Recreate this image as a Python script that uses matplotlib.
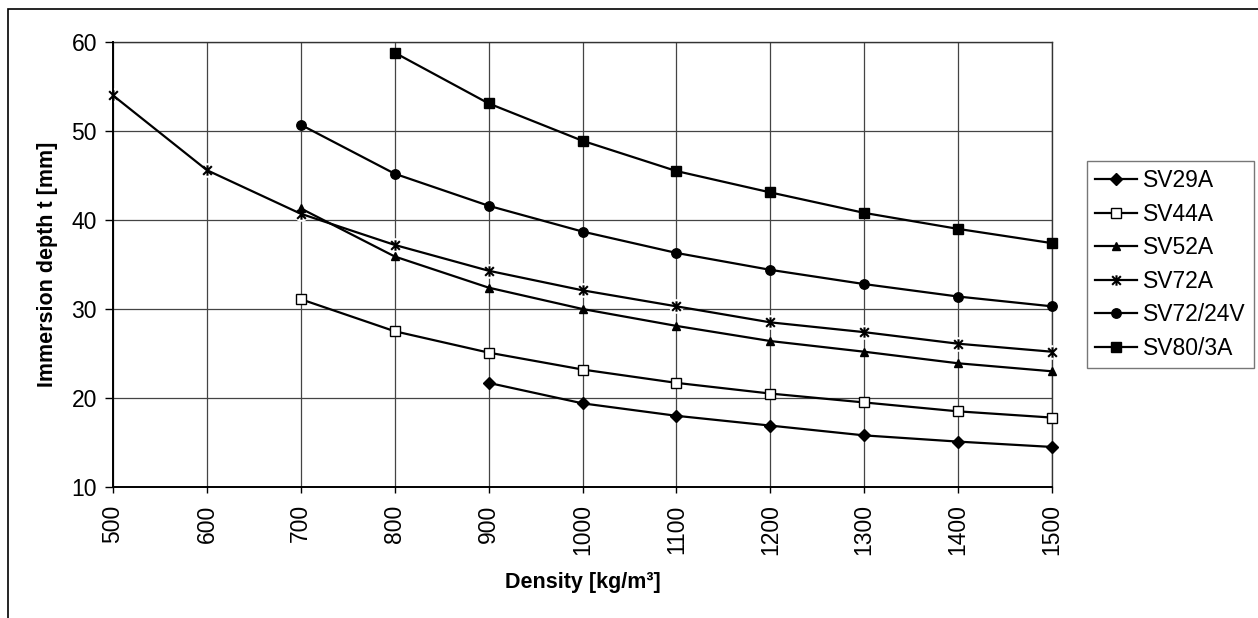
import numpy as np
import matplotlib
matplotlib.use('Agg')
import matplotlib.pyplot as plt
from matplotlib.path import Path
from matplotlib.patches import Rectangle

plt.rcParams['font.family'] = ['Liberation Sans', 'DejaVu Sans']

# Datos
density = [500, 600, 700, 800, 900, 1000, 1100, 1200, 1300, 1400, 1500]

sv29a_x = [900, 1000, 1100, 1200, 1300, 1400, 1500]
sv29a_y = [21.7, 19.4, 18.0, 16.9, 15.8, 15.1, 14.5]

sv44a_x = [700, 800, 900, 1000, 1100, 1200, 1300, 1400, 1500]
sv44a_y = [31.1, 27.5, 25.1, 23.2, 21.7, 20.5, 19.5, 18.5, 17.8]

sv52a_x = [700, 800, 900, 1000, 1100, 1200, 1300, 1400, 1500]
sv52a_y = [41.3, 35.9, 32.4, 30.0, 28.1, 26.4, 25.2, 23.9, 23.0]

sv72a_x = density
sv72a_y = [54.0, 45.6, 40.7, 37.2, 34.3, 32.1, 30.3, 28.5, 27.4, 26.1, 25.2]

sv72_24v_x = [700, 800, 900, 1000, 1100, 1200, 1300, 1400, 1500]
sv72_24v_y = [50.7, 45.2, 41.6, 38.7, 36.3, 34.4, 32.8, 31.4, 30.3]

sv80_3a_x = [800, 900, 1000, 1100, 1200, 1300, 1400, 1500]
sv80_3a_y = [58.8, 53.1, 48.9, 45.5, 43.1, 40.8, 39.0, 37.4]

y_ticks = [10, 20, 30, 40, 50, 60]

# Marcador tipo asterisco (x con barra vertical)
star = Path([(-1, -1), (1, 1), (-1, 1), (1, -1), (0, -1.2), (0, 1.2)],
            [Path.MOVETO, Path.LINETO, Path.MOVETO, Path.LINETO,
             Path.MOVETO, Path.LINETO])

W, H = 1258, 618
fig = plt.figure(figsize=(W / 100, H / 100), dpi=100)
ax = fig.add_axes([113 / W, 1 - 487 / H, (1052 - 113) / W, (487 - 42) / H])

lw = 1.6
common = dict(color='black', linewidth=lw, markeredgewidth=1.0,
              markeredgecolor='black', clip_on=False, zorder=3)

ax.plot(sv29a_x, sv29a_y, marker='D', markersize=6.4, markerfacecolor='black',
        label='SV29A', **common)
ax.plot(sv44a_x, sv44a_y, marker='s', markersize=6.5, markerfacecolor='white',
        label='SV44A', **common)
ax.plot(sv52a_x, sv52a_y, marker='^', markersize=6.2, markerfacecolor='black',
        label='SV52A', **common)
# fondo blanco detrás de los asteriscos (hueco en la línea)
ax.plot(sv72a_x, sv72a_y, linestyle='none', marker='o', markersize=9.5,
        markerfacecolor='white', markeredgecolor='white', zorder=2.4)
star_kw = dict(common)
star_kw['markeredgewidth'] = 1.5
ax.plot(sv72a_x, sv72a_y, marker=star, markersize=7.5, markerfacecolor='none',
        label='SV72A', **star_kw)
ax.plot(sv72_24v_x, sv72_24v_y, marker='o', markersize=6.8, markerfacecolor='black',
        label='SV72/24V', **common)
ax.plot(sv80_3a_x, sv80_3a_y, marker='s', markersize=7.8, markerfacecolor='black',
        label='SV80/3A', **common)

ax.set_xlim(500, 1500)
ax.set_ylim(10, 60)
ax.set_xticks(density)
ax.set_yticks(y_ticks)
ax.set_xticklabels([str(d) for d in density], rotation=90)

ax.grid(True, color='#444444', linewidth=0.9)
ax.set_axisbelow(True)
for side in ['left', 'bottom']:
    ax.spines[side].set_linewidth(1.4)
for side in ['top', 'right']:
    ax.spines[side].set_linewidth(1.0)
    ax.spines[side].set_color('#333333')
    ax.spines[side].set_zorder(1)

ax.tick_params(axis='y', direction='out', length=5.5, width=1.0, pad=6, labelsize=16.5)
ax.tick_params(axis='x', direction='out', length=4.5, width=1.0, pad=8, labelsize=16.5)

ax.set_ylabel('Immersion depth t [mm]', fontsize=15.5, fontweight='bold', labelpad=10)
ax.set_xlabel('Density [kg/m³]', fontsize=15.5, fontweight='bold', labelpad=12)

leg = fig.legend(loc='upper left', bbox_to_anchor=(1087 / W, 1 - 161 / H),
                 fontsize=16.5, frameon=True, fancybox=False, shadow=False,
                 handlelength=1.8, handletextpad=0.3, labelspacing=0.46,
                 borderpad=0.36, borderaxespad=0)
leg.get_frame().set_edgecolor('#555555')
leg.get_frame().set_linewidth(1.0)

# Marco exterior (sólo se ven borde izquierdo y superior)
fig.add_artist(Rectangle((7.5 / W, -0.1), 1.2, 1.1 - 9 / H,
                         transform=fig.transFigure, fill=False,
                         edgecolor='black', linewidth=1.2, clip_on=False))

fig.savefig('out.png', dpi=100)
